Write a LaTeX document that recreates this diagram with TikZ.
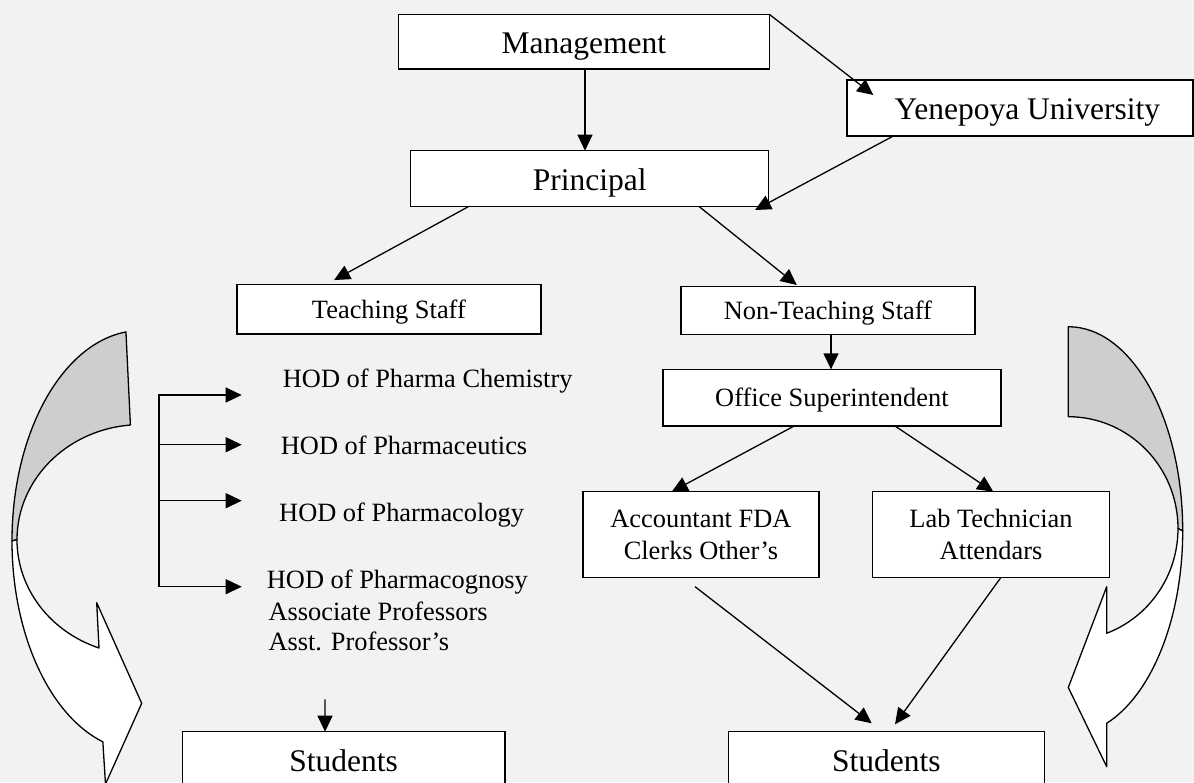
\documentclass[tikz,border=0pt]{standalone}
\usepackage{fontspec}
\setmainfont{Liberation Serif}
\usetikzlibrary{arrows.meta}
\definecolor{bgcol}{HTML}{F2F2F2}
\definecolor{backcol}{HTML}{CECECE}
\begin{document}
\begin{tikzpicture}[x=1pt,y=-1pt,
  box/.style={draw=black, line width=1.5pt, fill=white, inner sep=0pt, outer sep=0pt},
  big/.style={font=\fontsize{31.5}{36}\selectfont, text height=29pt, text depth=6pt},
  small/.style={font=\fontsize{26.4}{32.3}\selectfont, text height=24pt, text depth=6pt},
  twoline/.style={font=\fontsize{26.4}{32.3}\selectfont, align=center},
  lbl/.style={font=\fontsize{26.4}{32.3}\selectfont, inner sep=0pt, anchor=base west},
  conn/.style={line width=1.3pt, -{Triangle[length=16pt,width=15pt]}},
  band/.style={draw=black, line width=1.3pt, line join=round},
]
\useasboundingbox (0,0) rectangle (1194,782);
\fill[bgcol] (0,0) rectangle (1194,782);

% left curved arrow
\filldraw[band, fill=backcol] ({141+129*cos(263.3)},{540.9+210.4*sin(263.3)})
  arc[start angle=263.3, end angle=180, x radius=129, y radius=210.4]
  -- (17,539.7)
  arc[start angle=180, end angle=265.1, x radius=124, y radius=115.1] -- cycle;
\filldraw[band, fill=white] (12,540.9)
  arc[start angle=180, end angle=107.2, x radius=129, y radius=210.4]
  -- (105.5,784) -- (141.7,703.3) -- (96.7,602.7)
  -- ({141+124*cos(109.8)},{539.7+115.1*sin(109.8)})
  arc[start angle=109.8, end angle=180, x radius=124, y radius=115.1] -- cycle;

% right curved arrow
\filldraw[band, fill=backcol] (1068.3,326.7)
  arc[start angle=270, end angle=360, x radius=114.4, y radius=204.2]
  -- (1178,528.5)
  arc[start angle=360, end angle=270, x radius=109.7, y radius=111.8] -- cycle;
\filldraw[band, fill=white] (1182.7,530.9)
  arc[start angle=0, end angle=70.4, x radius=114.4, y radius=204.2]
  -- (1106.7,766.7) -- (1068.3,687.5) -- (1106.7,586.7)
  -- ({1068.3+109.7*cos(69.5)},{528.5+111.8*sin(69.5)})
  arc[start angle=69.5, end angle=0, x radius=109.7, y radius=111.8] -- cycle;

% boxes
\node[box, big, minimum width=371pt, minimum height=54.7pt] (mgmt) at (583.8,41.65) {Management};
\node[box, big, minimum width=358pt, minimum height=56pt] (prin) at (589.7,178.7) {Principal};
\node[box, big, minimum width=346.3pt, minimum height=56pt] (yen) at (1019.9,108) {\hspace*{15pt}Yenepoya University};
\node[box, small, minimum width=304.3pt, minimum height=49.7pt] (teach) at (388.9,309.2) {Teaching Staff};
\node[box, small, minimum width=294.3pt, minimum height=48pt] (nts) at (827.9,310.7) {Non-Teaching Staff};
\node[box, small, minimum width=338.3pt, minimum height=56.7pt] (os) at (831.9,397.7) {Office Superintendent};
\node[box, twoline, minimum width=236.3pt, minimum height=86pt] (acc) at (700.9,534.7) {Accountant FDA\\Clerks Other’s};
\node[box, twoline, minimum width=236.6pt, minimum height=86pt] (lab) at (991,534.7) {Lab Technician\\Attendars};
\node[box, big, minimum width=322.7pt, minimum height=56pt] (stl) at (343.7,759.7) {Students};
\node[box, big, minimum width=316pt, minimum height=56pt] (str) at (886.3,759.7) {Students};

% HOD list
\node[lbl] (hod1) at (282.7,387.3) {HOD of Pharma Chemistry};
\node[lbl] (hod2) at (280.7,454) {HOD of Pharmaceutics};
\node[lbl] (hod3) at (279,521.7) {HOD of Pharmacology};
\node[lbl] (hod4) at (266.7,588.3) {HOD of Pharmacognosy};
\node[lbl] (assoc) at (268.3,620) {Associate Professors};
\node[lbl] (asst) at (268.3,650) {Asst. Professor’s};

\coordinate (v1) at (159,395);
\coordinate (v2) at (159,444.7);
\coordinate (v3) at (159,500.7);
\coordinate (v4) at (159,586.7);
\coordinate (e1) at (241.7,395);
\coordinate (e2) at (241.7,444.7);
\coordinate (e3) at (241.7,500.7);
\coordinate (e4) at (241.7,586.7);
\draw[line width=1.3pt, {Triangle[length=16pt,width=15pt]}-{Triangle[length=16pt,width=15pt]}] (e1) -- (v1) -- (v4) -- (e4);
\draw[conn] (v2) -- (e2);
\draw[conn] (v3) -- (e3);
\coordinate (sa) at (325,699.3);
\draw[conn] (sa) -- ([xshift=142.7pt]stl.north west);

% connectors
\draw[conn] ([xshift=1.2pt]mgmt.south) -- ([xshift=-4.7pt]prin.north);
\draw[conn] (mgmt.north east) -- ([xshift=26.6pt,yshift=-15pt]yen.north west);
\draw[conn] ([xshift=46.6pt]yen.south west) -- ([xshift=-13.7pt,yshift=-3.3pt]prin.south east);
\draw[conn] ([xshift=57.6pt]prin.south west) -- ([xshift=97.3pt,yshift=4.3pt]teach.north west);
\draw[conn] ([xshift=-69.4pt]prin.south east) -- ([xshift=116pt,yshift=1.7pt]nts.north west);
\draw[conn] ([xshift=3.1pt]nts.south) -- ([xshift=-0.9pt]os.north);
\draw[conn] ([xshift=131.3pt]os.south west) -- ([xshift=89pt]acc.north west);
\draw[conn] ([xshift=232.3pt]os.south west) -- ([xshift=120.6pt]lab.north west);
\draw[conn] ([xshift=112.3pt,yshift=-9pt]acc.south west) -- ([xshift=143.4pt,yshift=8.4pt]str.north west);
\draw[conn] ([xshift=128pt]lab.south west) -- ([xshift=166.7pt,yshift=7.4pt]str.north west);
\end{tikzpicture}
\end{document}
